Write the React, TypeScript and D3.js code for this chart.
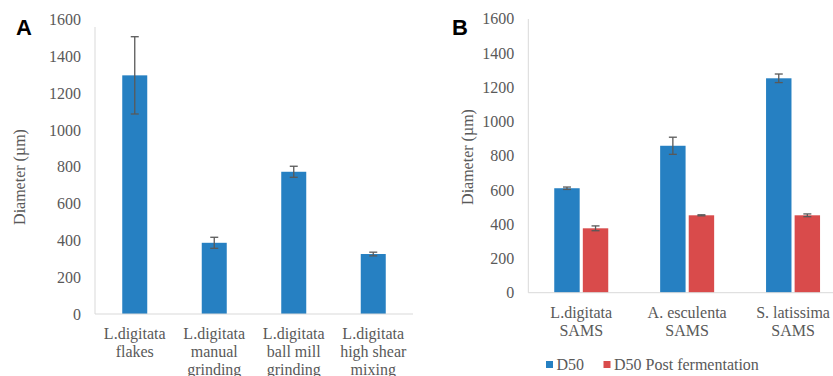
import * as d3 from 'd3';

// Panel A
const catsA = [
  ['L.digitata', 'flakes'],
  ['L.digitata', 'manual', 'grinding'],
  ['L.digitata', 'ball mill', 'grinding'],
  ['L.digitata', 'high shear', 'mixing'],
];
const valuesA = [1297, 387, 773, 326];
const errorsA = [210, 30, 30, 10];

// Panel B
const catsB = [
  ['L.digitata', 'SAMS'],
  ['A. esculenta', 'SAMS'],
  ['S. latissima', 'SAMS'],
];
const seriesB = ['D50', 'D50 Post fermentation'];
const d50 = [610, 858, 1252];
const d50Err = [7, 50, 25];
const post = [376, 452, 452];
const postErr = [14, 3, 8];

const yTicks = [0, 200, 400, 600, 800, 1000, 1200, 1400, 1600];

const BLUE = '#2680c2';
const RED = '#d94b4b';
const TEXT = '#595959';
const AXIS = '#d9d9d9';
const ERR = '#595959';
const SERIF = 'Liberation Serif';
const SANS = 'Liberation Sans';

function T(props: any) {
  return <text fontFamily={SERIF} fontSize={16} fill={TEXT} {...props} />;
}

function ErrorBar({ x, y0, y1 }: { x: number; y0: number; y1: number }) {
  return (
    <g stroke={ERR} strokeWidth={1.3}>
      <line x1={x} x2={x} y1={y0} y2={y1} />
      <line x1={x - 4} x2={x + 4} y1={y0} y2={y0} />
      <line x1={x - 4} x2={x + 4} y1={y1} y2={y1} />
    </g>
  );
}

function YAxis({ y, x, labelX, labelY, top }: { y: d3.ScaleLinear<number, number>; x: number; labelX: number; labelY: number; top: number }) {
  return (
    <g>
      {yTicks.map((t) => (
        <T key={t} x={x - 14} y={y(t)} dy="0.35em" textAnchor="end">
          {t}
        </T>
      ))}
      <line x1={x} x2={x} y1={top} y2={y(0)} stroke={AXIS} strokeWidth={1} />
      <T transform={`translate(${labelX},${labelY}) rotate(-90)`} textAnchor="middle" dy="0.35em">
        Diameter (µm)
      </T>
    </g>
  );
}

export default function App() {
  // Panel A scales
  const xA = d3.scaleBand<number>().domain(d3.range(catsA.length)).range([95, 413]);
  const yA = d3.scaleLinear().domain([0, 1600]).range([314, 19.6]);
  const barWA = 25;

  // Panel B scales
  const xB = d3.scaleBand<number>().domain(d3.range(catsB.length)).range([528.3, 846]);
  const yB = d3.scaleLinear().domain([0, 1600]).range([292.7, 18.7]);
  const xSub = d3.scaleBand<number>().domain([0, 1]).range([-27, 27]).paddingInner(0.11);
  const colors = [BLUE, RED];
  const groups = [
    { vals: d50, errs: d50Err },
    { vals: post, errs: postErr },
  ];

  return (
    <svg width={833} height={376} style={{ position: 'absolute', left: 0, top: 0 }}>
      <rect width={833} height={376} fill="#fff" />

      {/* Panel A */}
      <text x={16} y={35} fontFamily={SANS} fontWeight="bold" fontSize={22} fill="#000">
        A
      </text>
      <YAxis y={yA} x={95} labelX={19} labelY={177} top={27} />
      {valuesA.map((v, i) => {
        const cx = (xA(i) as number) + xA.bandwidth() / 2;
        return (
          <g key={i}>
            <rect x={cx - barWA / 2} y={yA(v)} width={barWA} height={yA(0) - yA(v)} fill={BLUE} />
            <ErrorBar x={cx} y0={yA(v + errorsA[i])} y1={yA(v - errorsA[i])} />
            {catsA[i].map((line, j) => (
              <T key={j} x={cx} y={333 + j * 18} dy="0.35em" textAnchor="middle">
                {line}
              </T>
            ))}
          </g>
        );
      })}
      <line x1={95} x2={413} y1={yA(0)} y2={yA(0)} stroke={AXIS} strokeWidth={1} />

      {/* Panel B */}
      <text x={452} y={35} fontFamily={SANS} fontWeight="bold" fontSize={22} fill="#000">
        B
      </text>
      <YAxis y={yB} x={528.3} labelX={467} labelY={157} top={19} />
      {catsB.map((c, i) => {
        const cx = (xB(i) as number) + xB.bandwidth() / 2;
        return (
          <g key={i}>
            {groups.map((g, s) => {
              const bx = cx + (xSub(s) as number);
              const bw = xSub.bandwidth();
              const v = g.vals[i];
              return (
                <g key={s}>
                  <rect x={bx} y={yB(v)} width={bw} height={yB(0) - yB(v)} fill={colors[s]} />
                  <ErrorBar x={bx + bw / 2} y0={yB(v + g.errs[i])} y1={yB(v - g.errs[i])} />
                </g>
              );
            })}
            {c.map((line, j) => (
              <T key={j} x={cx} y={312 + j * 18} dy="0.35em" textAnchor="middle">
                {line}
              </T>
            ))}
          </g>
        );
      })}
      <line x1={528.3} x2={833} y1={yB(0)} y2={yB(0)} stroke={AXIS} strokeWidth={1} />

      {/* Legend */}
      <g>
        <rect x={546} y={361} width={7} height={7} fill={BLUE} />
        <T x={556.5} y={364.5} dy="0.35em">
          {seriesB[0]}
        </T>
        <rect x={603.5} y={361} width={7} height={7} fill={RED} />
        <T x={614} y={364.5} dy="0.35em">
          {seriesB[1]}
        </T>
      </g>
    </svg>
  );
}
